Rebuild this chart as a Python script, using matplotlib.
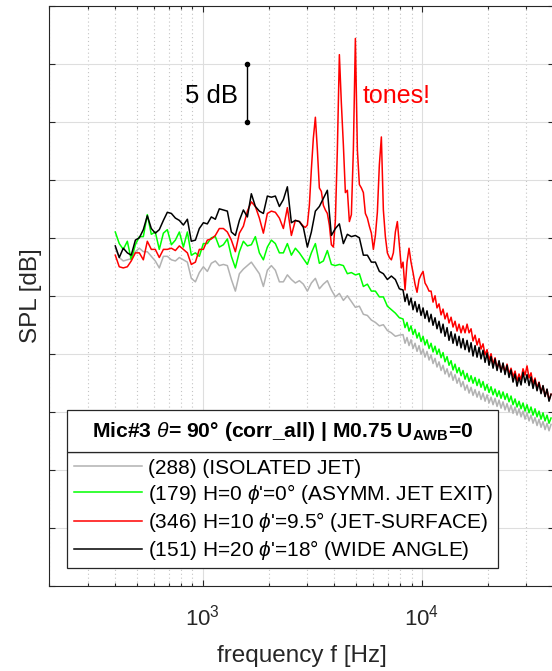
import matplotlib
matplotlib.use('Agg')
import matplotlib.pyplot as plt
from matplotlib.patches import Rectangle
from matplotlib.ticker import NullFormatter, LogLocator

plt.rcParams['font.family'] = ['Liberation Sans', 'DejaVu Sans']
plt.rcParams['mathtext.fontset'] = 'custom'
plt.rcParams['mathtext.rm'] = 'Liberation Sans'
plt.rcParams['mathtext.it'] = 'Liberation Sans:italic'
plt.rcParams['mathtext.bf'] = 'Liberation Sans:bold'

# ---------------- data ----------------
freq_low = [400, 417, 435, 454, 473, 494, 515, 537, 560, 584, 609, 635, 663, 691, 721, 752,
            784, 818, 853, 889, 928, 967, 1009, 1052, 1097, 1144, 1193, 1245, 1298, 1354,
            1412, 1473, 1536, 1602, 1670, 1742, 1817, 1895, 1976, 2061, 2149, 2242, 2338,
            2438, 2543, 2652, 2766, 2884, 3008, 3137, 3272, 3412, 3559, 3711, 3871, 4037,
            4210, 4391, 4579, 4776, 4981, 5194, 5417, 5650, 5892, 6145, 6408, 6683, 6970,
            7269, 7581, 7906]
freq_tone = [2884, 2945, 3008, 3072, 3137, 3203, 3272, 3341, 3412, 3484, 3559, 3634, 3711,
             3790, 3871, 3953, 4037, 4122, 4210, 4299, 4391, 4484, 4579, 4676, 4776, 4877,
             4981, 5086, 5194, 5305, 5417, 5532, 5650, 5769, 5892, 6017, 6145, 6275, 6408,
             6544, 6683, 6825, 6970, 7118, 7269, 7423, 7581, 7741, 7906, 8073]
freq_high = [8216, 8391, 8569, 8751, 8937, 9127, 9321, 9519, 9721, 9927, 10140, 10350, 10570,
             10800, 11030, 11260, 11500, 11740, 11990, 12250, 12510, 12770, 13050, 13320,
             13610, 13890, 14190, 14490, 14800, 15110, 15430, 15760, 16100, 16440, 16790,
             17140, 17510, 17880, 18260, 18640, 19040, 19450, 19860, 20280, 20710, 21150,
             21600, 22060, 22530, 23000, 23490, 23990, 24500, 25020, 25550, 26090, 26650,
             27210, 27790, 28380, 28980, 29600, 30220, 30870, 31520, 32190, 32870, 33570,
             34280, 35010, 35750, 36520, 37290, 38080, 38890]

spl_isolated_low = [69.1, 68.3, 68.0, 68.1, 68.2, 68.8, 69.1, 68.8, 68.8, 68.4,
                    68.0, 67.4, 68.4, 68.4, 68.1, 68.0, 68.3, 68.1, 67.9, 66.5,
                    66.2, 67.0, 67.5, 67.1, 67.8, 68.0, 67.6, 67.7, 67.6, 66.4,
                    65.4, 66.9, 67.3, 67.6, 67.9, 67.4, 66.9, 65.8, 67.2, 67.6,
                    67.2, 66.2, 66.2, 66.8, 66.4, 66.1, 66.3, 66.0, 65.4, 66.1,
                    66.5, 65.6, 66.0, 66.3, 65.5, 64.9, 65.2, 64.6, 65.0, 64.5,
                    64.0, 64.1, 63.4, 63.3, 62.9, 62.7, 62.4, 62.5, 62.0, 61.8, 61.5, 61.6]
spl_isolated_high = [61.65, 60.9, 61.4, 60.7, 61.2, 60.45, 60.9, 60.2, 60.7, 59.95,
                     60.4, 59.7, 60.2, 59.45, 59.9, 59.15, 59.6, 58.85, 59.3, 58.55,
                     59.0, 58.25, 58.7, 58.0, 58.45, 57.7, 58.2, 57.45, 57.9, 57.15,
                     57.6, 56.85, 57.3, 56.6, 57.1, 56.4, 56.9, 56.25, 56.75, 56.05,
                     56.6, 55.9, 56.45, 55.75, 56.25, 55.6, 56.15, 55.45, 56.0, 55.3,
                     55.85, 55.15, 55.7, 55.0, 55.55, 54.85, 55.4, 54.7, 55.25, 54.55,
                     55.05, 54.35, 54.9, 54.2, 54.7, 54.0, 54.5, 53.8, 54.35, 53.65,
                     54.15, 53.45, 54.0, 53.35, 53.9]

spl_asymm_low = [70.5, 69.5, 69.0, 69.7, 68.1, 69.4, 70.1, 70.1, 72.0, 70.3,
                 70.5, 69.0, 70.4, 70.7, 69.4, 69.8, 70.5, 69.2, 70.5, 68.5,
                 68.7, 68.4, 69.5, 69.5, 70.0, 70.1, 69.2, 69.4, 69.9, 68.4,
                 67.4, 68.8, 69.7, 69.3, 69.4, 70.1, 68.7, 68.1, 69.2, 69.8,
                 69.5, 68.7, 68.7, 69.5, 68.5, 69.1, 68.7, 68.2, 67.7, 68.7,
                 69.5, 67.8, 68.0, 68.9, 67.7, 67.6, 67.7, 67.6, 66.9, 67.0,
                 66.8, 66.9, 65.8, 66.0, 65.4, 65.4, 64.9, 64.9, 64.1, 63.8, 63.5, 63.1]
spl_asymm_high = [63.0, 62.25, 62.7, 61.95, 62.4, 61.65, 62.1, 61.35, 61.8, 61.05,
                  61.5, 60.75, 61.2, 60.45, 60.9, 60.15, 60.65, 59.95, 60.4, 59.65,
                  60.1, 59.3, 59.75, 59.0, 59.4, 58.6, 59.1, 58.35, 58.8, 58.1,
                  58.55, 57.8, 58.3, 57.6, 58.1, 57.45, 57.95, 57.25, 57.8, 57.1,
                  57.6, 56.85, 57.35, 56.65, 57.15, 56.45, 56.95, 56.3, 56.8, 56.15,
                  56.7, 56.05, 56.55, 55.85, 56.35, 55.6, 56.1, 55.4, 55.9, 55.25,
                  55.75, 55.05, 55.6, 54.9, 55.4, 54.7, 55.25, 54.55, 55.05, 54.35,
                  54.9, 54.2, 54.7, 54.0, 54.45]

spl_surface_low = [68.5, 67.5, 67.4, 67.5, 68.0, 68.7, 68.7, 68.1, 69.7, 69.0,
                   69.0, 68.3, 69.0, 69.0, 69.1, 68.9, 69.3, 69.0, 68.7, 67.7,
                   67.9, 69.0, 69.0, 69.8, 69.9, 70.2, 70.8, 70.8, 70.5, 69.8,
                   68.8, 70.4, 71.0, 72.3, 73.1, 72.7, 71.7, 70.4, 72.1, 72.3,
                   72.2, 71.7, 70.8, 72.6, 70.2, 71.5, 71.4]
spl_surface_tone = [71.0, 70.9, 71.1, 72.8, 75.9, 78.6, 80.4, 77.6, 74.3, 74.0,
                    72.8, 72.4, 72.1, 71.1, 69.4, 69.2, 71.5, 77.6, 85.8, 81.6,
                    78.0, 73.9, 74.1, 71.4, 72.0, 77.6, 87.2, 77.6, 74.6, 74.3,
                    73.9, 72.1, 71.7, 71.0, 70.4, 69.0, 70.2, 72.2, 76.3, 78.7,
                    72.4, 70.1, 68.7, 68.3, 68.1, 68.7, 70.5, 71.4, 69.4, 67.4]
spl_surface_high = [67.9, 65.5, 67.9, 69.1, 67.9, 67.0, 66.0, 65.3, 66.4, 66.8,
                    67.1, 66.1, 65.8, 65.4, 65.4, 64.45, 65.0, 63.95, 64.3, 63.35,
                    63.85, 63.0, 63.5, 62.65, 63.15, 62.3, 62.8, 61.95, 62.55, 61.8,
                    62.4, 61.8, 62.55, 61.8, 62.15, 61.1, 61.6, 60.75, 61.3, 60.4,
                    60.85, 59.9, 60.35, 59.45, 60.0, 59.1, 59.65, 58.75, 59.3, 58.5,
                    59.1, 58.4, 59.1, 58.25, 58.75, 58.0, 58.5, 57.65, 58.25, 57.75,
                    58.7, 58.15, 58.95, 57.9, 58.35, 57.4, 57.9, 57.05, 57.55, 56.7,
                    57.2, 56.35, 56.9, 56.0, 56.5]

spl_wide_low = [69.3, 68.3, 69.1, 68.7, 68.5, 69.8, 70.0, 70.7, 71.9, 70.8,
                70.4, 70.7, 71.5, 72.2, 72.1, 71.7, 71.5, 71.1, 71.6, 69.7,
                69.8, 70.8, 71.3, 71.2, 71.8, 71.6, 72.5, 72.4, 72.3, 70.5,
                70.2, 71.5, 72.4, 71.8, 73.8, 72.7, 72.3, 72.1, 73.6, 73.5,
                73.6, 72.7, 73.3, 74.4, 71.3, 71.5, 71.4, 70.9, 69.2, 70.5,
                72.3, 72.7, 73.4, 74.1, 70.2, 70.8, 71.2, 69.5, 70.3, 70.1,
                70.2, 70.0, 68.5, 68.5, 67.9, 67.9, 67.1, 66.9, 66.4, 66.7, 66.4, 65.6]
spl_wide_high = [65.5, 64.5, 65.15, 64.2, 64.8, 63.8, 64.5, 63.6, 64.25, 63.3,
                 63.95, 63.05, 63.7, 62.75, 63.4, 62.45, 63.1, 62.15, 62.8, 61.8,
                 62.55, 61.5, 62.25, 61.15, 61.9, 60.9, 61.7, 60.7, 61.5, 60.5,
                 61.3, 60.35, 61.15, 60.15, 60.95, 59.8, 60.7, 59.7, 60.55, 59.55,
                 60.3, 59.25, 60.05, 59.0, 59.75, 58.75, 59.55, 58.55, 59.4, 58.4,
                 59.2, 58.2, 59.0, 57.95, 58.6, 57.55, 58.25, 57.2, 57.95, 57.3,
                 58.4, 57.5, 58.2, 57.25, 58.0, 57.0, 57.75, 56.8, 57.5, 56.55,
                 57.25, 56.3, 56.95, 55.9, 56.5]

labels = ["(288) (ISOLATED JET)",
          "(179) H=0 $\\phi$'=0° (ASYMM. JET EXIT)",
          "(346) H=10 $\\phi$'=9.5° (JET-SURFACE)",
          "(151) H=20 $\\phi$'=18° (WIDE ANGLE)"]
colors = ['#b2b2b2', '#00ff00', '#ff0000', '#000000']
legend_title = "Mic#3 $\\theta$= 90° (corr_all) | M0.75 U$_{\\mathbf{AWB}}$=0"

freq = freq_low + freq_high
freq_red = freq_low[:47] + freq_tone + freq_high
series = [
    (freq, spl_isolated_low + spl_isolated_high),
    (freq, spl_asymm_low + spl_asymm_high),
    (freq_red, spl_surface_low + spl_surface_tone + spl_surface_high),
    (freq, spl_wide_low + spl_wide_high),
]

scale_bar_freq = 1596
scale_bar_db = [80, 85]

# ---------------- figure ----------------
fig = plt.figure(figsize=(5.52, 6.71), dpi=100)
ax = fig.add_axes([0.0893, 0.1274, 0.9138, 0.8637])
ax.set_xscale('log')
ax.set_xlim(200, 40000)
ax.set_ylim(40, 90)
ax.set_yticks([40, 45, 50, 55, 60, 65, 70, 75, 80, 85, 90])
ax.xaxis.set_minor_locator(LogLocator(base=10, subs=range(2, 10)))
ax.xaxis.set_minor_formatter(NullFormatter())

dark = '#262626'
ax.tick_params(which='both', direction='in', top=True, right=True, labelleft=False,
               color=dark, width=0.8, labelcolor=dark)
ax.tick_params(which='major', length=4)
ax.tick_params(which='minor', length=2.5)
ax.tick_params(axis='x', which='major', labelsize=16, pad=14)
for s in ax.spines.values():
    s.set_color(dark)
    s.set_linewidth(0.8)

ax.grid(which='major', color='#dedede', lw=0.8, ls='-')
ax.grid(which='minor', axis='x', color='#c4c4c4', lw=0.8, ls=(0, (1, 2.5)))
ax.set_axisbelow(True)

handles = []
for (f, s), c in zip(series, colors):
    ln, = ax.plot(f, s, color=c, lw=1.1)
    handles.append(ln)

ax.plot([scale_bar_freq, scale_bar_freq], scale_bar_db, color='k', lw=1.0,
        marker='o', markersize=3)
ax.text(1447, 81.6, '5 dB', ha='right', va='baseline', fontsize=18.5, color='k')
ax.text(5395, 81.6, 'tones!', ha='left', va='baseline', fontsize=18, color='red')

ax.set_xlabel('frequency f [Hz]', fontsize=17.5, color=dark, labelpad=10)
ax.set_ylabel('SPL [dB]', fontsize=17.5, color=dark, labelpad=5)

# legend (entries) + title box
lx0, lw_ = 0.0357, 0.8545
leg = ax.legend(handles, labels, loc='upper left',
                bbox_to_anchor=(lx0, 0.0314, lw_, 0.1985), mode='expand',
                borderaxespad=0, fontsize=15, handlelength=3.3, handletextpad=0.27,
                labelspacing=0.2, borderpad=0.3, fancybox=False, framealpha=1,
                edgecolor=dark)
leg.get_frame().set_linewidth(0.9)
rect = Rectangle((lx0, 0.2299), lw_, 0.0730, transform=ax.transAxes,
                 facecolor='white', edgecolor=dark, lw=0.9, zorder=6)
ax.add_patch(rect)
ax.text(lx0 + lw_ / 2, 0.2664, legend_title, transform=ax.transAxes, ha='center',
        va='center', fontsize=15.2, fontweight='bold', zorder=7, color='k')

fig.savefig('out.png', dpi=100)
